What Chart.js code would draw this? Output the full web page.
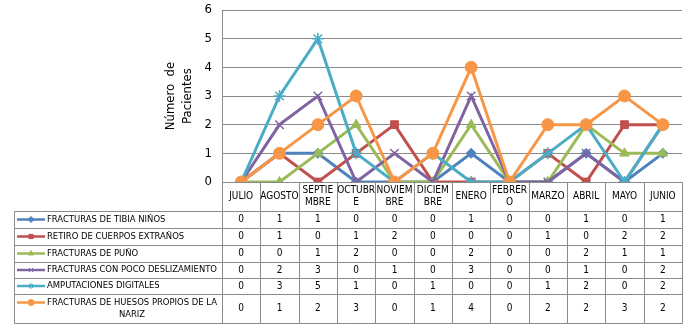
<!DOCTYPE html>
<html>
<head>
<meta charset="utf-8">
<script src="https://cdn.jsdelivr.net/npm/chart.js@4/dist/chart.umd.min.js"></script>
<style>
  html, body { margin: 0; padding: 0; background: #fff; }
  #wrap { width: 692px; height: 331px; position: relative; }
</style>
</head>
<body>
<div id="wrap"><canvas id="chart"></canvas></div>
<script>
// categories (as printed in the table header, wrapped like the original)
const months = ['JULIO', 'AGOSTO', ['SEPTIE', 'MBRE'], ['OCTUBR', 'E'], ['NOVIEM', 'BRE'], ['DICIEM', 'BRE'],
  'ENERO', ['FEBRER', 'O'], 'MARZO', 'ABRIL', 'MAYO', 'JUNIO'];

const seriesNames = [
  ['FRACTURAS DE TIBIA NIÑOS'],
  ['RETIRO DE CUERPOS EXTRAÑOS'],
  ['FRACTURAS DE PUÑO'],
  ['FRACTURAS CON POCO DESLIZAMIENTO'],
  ['AMPUTACIONES DIGITALES'],
  ['FRACTURAS DE HUESOS PROPIOS DE LA', 'NARIZ']
];

const tibiaNinos     = [0, 1, 1, 0, 0, 0, 1, 0, 0, 1, 0, 1];
const cuerposExtr    = [0, 1, 0, 1, 2, 0, 0, 0, 1, 0, 2, 2];
const fractPuno      = [0, 0, 1, 2, 0, 0, 2, 0, 0, 2, 1, 1];
const pocoDesliz     = [0, 2, 3, 0, 1, 0, 3, 0, 0, 1, 0, 2];
const amputaciones   = [0, 3, 5, 1, 0, 1, 0, 0, 1, 2, 0, 2];
const huesosNariz    = [0, 1, 2, 3, 0, 1, 4, 0, 2, 2, 3, 2];

const yTitle = ['Número  de', 'Pacientes'];

const allSeries = [tibiaNinos, cuerposExtr, fractPuno, pocoDesliz, amputaciones, huesosNariz];
const colors = ['#4F81BD', '#C0504D', '#9BBB59', '#8064A2', '#4BACC6', '#F79646'];
const markers = ['rectRot', 'rect', 'triangle', 'crossRot', 'star', 'circle'];
const markerSize = [5, 5.5, 5.5, 6, 6, 6];

const FONT = '"Liberation Sans Narrow", "DejaVu Sans Condensed", sans-serif';
const GRID = '#8a8a8a';

// data table drawn under the plot, aligned with the category scale
const dataTable = {
  id: 'dataTable',
  afterDraw(chart) {
    const ctx = chart.ctx;
    const xs = chart.scales.x;
    const area = chart.chartArea;
    const colW = (area.right - area.left) / months.length;
    const headTop = area.bottom;
    const headH = 29;
    const rowH = [17, 17, 17, 16, 16, 29];
    const tabLeft = 14;
    const px = v => Math.round(v) + 0.5;

    ctx.save();
    ctx.strokeStyle = GRID;
    ctx.lineWidth = 1;

    // header cells
    ctx.beginPath();
    ctx.moveTo(px(area.left), px(headTop));
    ctx.lineTo(px(area.right), px(headTop));
    for (let i = 0; i <= months.length; i++) {
      const lx = px(area.left + i * colW);
      ctx.moveTo(lx, px(headTop));
      ctx.lineTo(lx, px(headTop + headH));
    }
    ctx.stroke();

    ctx.fillStyle = '#000';
    ctx.textAlign = 'center';
    ctx.textBaseline = 'middle';
    ctx.font = '10px ' + FONT;
    months.forEach((m, i) => {
      const cx = xs.getPixelForValue(i);
      const lines = Array.isArray(m) ? m : [m];
      const lh = 12;
      const y0 = headTop + headH / 2 - (lines.length - 1) * lh / 2;
      lines.forEach((t, k) => ctx.fillText(t, cx, y0 + k * lh));
    });

    // body rows
    let y = headTop + headH;
    const tabBottom = y + rowH.reduce((a, b) => a + b, 0);
    ctx.beginPath();
    let yy = y;
    ctx.moveTo(px(tabLeft), px(yy)); ctx.lineTo(px(area.right), px(yy));
    rowH.forEach(h => {
      yy += h;
      ctx.moveTo(px(tabLeft), px(yy)); ctx.lineTo(px(area.right), px(yy));
    });
    ctx.moveTo(px(tabLeft), px(y)); ctx.lineTo(px(tabLeft), px(tabBottom));
    for (let i = 0; i <= months.length; i++) {
      const lx = px(area.left + i * colW);
      ctx.moveTo(lx, px(y));
      ctx.lineTo(lx, px(tabBottom));
    }
    ctx.stroke();

    allSeries.forEach((vals, s) => {
      const h = rowH[s];
      const names = seriesNames[s];
      const lh = 12;
      const firstY = y + h / 2 - (names.length - 1) * lh / 2;

      // legend key
      ctx.strokeStyle = colors[s];
      ctx.lineWidth = 2.5;
      ctx.beginPath();
      ctx.moveTo(17, firstY);
      ctx.lineTo(45, firstY);
      ctx.stroke();
      ctx.fillStyle = colors[s];
      ctx.lineWidth = 1;
      Chart.helpers.drawPoint(ctx, { pointStyle: markers[s], radius: 3, rotation: 0, borderWidth: 1.5 }, 31, firstY);

      // series name
      ctx.fillStyle = '#000';
      ctx.font = '9.4px ' + FONT;
      if (names.length === 1) {
        ctx.textAlign = 'left';
        ctx.fillText(names[0], 47, firstY);
      } else {
        ctx.textAlign = 'center';
        names.forEach((t, k) => ctx.fillText(t, 132, firstY + k * lh));
      }

      // values
      ctx.textAlign = 'center';
      ctx.font = '10px ' + FONT;
      vals.forEach((v, i) => ctx.fillText(String(v), xs.getPixelForValue(i), y + h / 2));
      y += h;
    });
    ctx.restore();
  }
};

const datasets = allSeries.map((vals, s) => ({
  label: seriesNames[s].join(' '),
  data: vals,
  borderColor: colors[s],
  backgroundColor: colors[s],
  borderWidth: 3,
  pointStyle: markers[s],
  pointRadius: markerSize[s],
  pointBorderWidth: markers[s] === 'crossRot' || markers[s] === 'star' ? 1.5 : 1,
  pointBorderColor: colors[s],
  pointBackgroundColor: colors[s],
  tension: 0,
  order: 5 - s
}));

new Chart(document.getElementById('chart'), {
  type: 'line',
  data: { labels: months, datasets },
  options: {
    responsive: true,
    maintainAspectRatio: false,
    animation: false,
    layout: { padding: { top: 10, right: 10, bottom: 149, left: 0 } },
    plugins: {
      legend: { display: false },
      tooltip: { enabled: false }
    },
    scales: {
      x: {
        display: false,
        offset: true
      },
      y: {
        min: 0,
        max: 6,
        afterFit: scale => {
          scale.width = 222;
          scale.paddingTop = 0;
          scale.paddingBottom = 0;
        },
        ticks: {
          stepSize: 1,
          color: '#000',
          padding: 10,
          font: { family: FONT, size: 13 }
        },
        grid: { color: GRID, lineWidth: 1, drawTicks: false },
        border: { display: true, color: GRID },
        title: {
          display: true,
          text: yTitle,
          color: '#000',
          font: { family: FONT, size: 13, lineHeight: 1.3 },
          padding: { top: 162, bottom: 0 }
        }
      }
    }
  },
  plugins: [dataTable]
});
</script>
</body>
</html>
